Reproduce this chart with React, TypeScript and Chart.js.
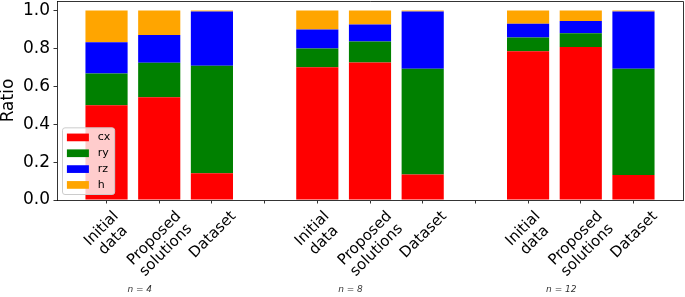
import React, { useEffect, useRef } from "react";
import { Chart, registerables } from "chart.js";

Chart.register(...registerables);

// ---- data ----
const categories: string[][] = [["Initial", "data"], ["Proposed", "solutions"], ["Dataset"]];
const groups: string[] = ["n = 4", "n = 8", "n = 12"];
const seriesNames: string[] = ["cx", "ry", "rz", "h"];
const seriesColors: string[] = ["#ff0000", "#008000", "#0000ff", "#ffa500"];
// order: [n=4: Initial, Proposed, Dataset], [n=8: ...], [n=12: ...]
const cx: number[] = [0.5, 0.542, 0.141, 0.701, 0.725, 0.134, 0.785, 0.807, 0.132];
const ry: number[] = [0.167, 0.182, 0.567, 0.098, 0.111, 0.558, 0.072, 0.073, 0.56];
const rz: number[] = [0.166, 0.146, 0.287, 0.101, 0.09, 0.303, 0.073, 0.064, 0.303];
const h: number[] = [0.167, 0.13, 0.005, 0.1, 0.074, 0.005, 0.07, 0.056, 0.005];
const yTicks: number[] = [0, 0.2, 0.4, 0.6, 0.8, 1.0];

const series = [cx, ry, rz, h];
const slot = categories.length + 1; // one empty slot between groups
const xOf = (i: number) => Math.floor(i / categories.length) * slot + (i % categories.length);
const nSlots = groups.length * slot - 1;
const xTickValues: number[] = Array.from({ length: nSlots }, (_, i) => i);
const labelFor = (v: number): string[] | null => {
  const c = v % slot;
  return c < categories.length ? categories[c] : null;
};

const FONT = '"DejaVu Sans", sans-serif';

const decorPlugin = {
  id: "decor",
  afterDraw(chart: any) {
    const { ctx, chartArea, scales } = chart;
    const xs = scales.x;
    ctx.save();
    // top & right spines
    ctx.strokeStyle = "#000";
    ctx.lineWidth = 0.8;
    ctx.beginPath();
    ctx.moveTo(chartArea.left, chartArea.top + 0.5);
    ctx.lineTo(chartArea.right + 0.5, chartArea.top + 0.5);
    ctx.lineTo(chartArea.right + 0.5, chartArea.bottom);
    ctx.stroke();

    // x tick labels, matplotlib-style rotated 45deg, bbox centred on tick
    const fs = 15;
    ctx.font = `${fs}px ${FONT}`;
    ctx.fillStyle = "#000";
    ctx.textAlign = "center";
    ctx.textBaseline = "alphabetic";
    const step = 1.1 * fs;
    for (const v of xTickValues) {
      const lines = labelFor(v);
      if (!lines) continue;
      const px = xs.getPixelForValue(v);
      const w = Math.max(...lines.map((l) => ctx.measureText(l).width));
      const hh = (lines.length - 1) * step + 1.164 * fs;
      const W = (w + hh) / Math.SQRT2;
      const cyp = chartArea.bottom + 7 + W / 2;
      ctx.save();
      ctx.translate(px, cyp);
      ctx.rotate(-Math.PI / 4);
      lines.forEach((l, i) => {
        ctx.fillText(l, 0, -hh / 2 + 0.928 * fs + i * step);
      });
      ctx.restore();
    }

    // group annotations
    ctx.font = `italic 9px ${FONT}`;
    ctx.fillStyle = "#333";
    ctx.textAlign = "center";
    ctx.textBaseline = "middle";
    groups.forEach((g, gi) => {
      const mid = gi * slot + (categories.length - 1) / 2;
      const px = xs.getPixelForValue(mid - 0.37);
      ctx.fillText(g, px, chartArea.bottom + 90);
    });

    // legend (lower left, inside axes)
    const lf = 11;
    ctx.font = `${lf}px ${FONT}`;
    const pad = 0.4 * lf;
    const handleL = 2 * lf;
    const handleH = 0.7 * lf;
    const textPad = 0.8 * lf;
    const rowH = 0.94 * lf;
    const rowGap = 0.5 * lf;
    const tw = Math.max(...seriesNames.map((n) => ctx.measureText(n).width));
    const bw = 2 * pad + handleL + textPad + tw;
    const bh = 2 * pad + seriesNames.length * rowH + (seriesNames.length - 1) * rowGap;
    const x0 = chartArea.left + 0.5 * lf;
    const y0 = chartArea.bottom - 0.5 * lf - bh;
    const r = 2.5;
    ctx.beginPath();
    ctx.moveTo(x0 + r, y0);
    ctx.lineTo(x0 + bw - r, y0);
    ctx.arcTo(x0 + bw, y0, x0 + bw, y0 + r, r);
    ctx.lineTo(x0 + bw, y0 + bh - r);
    ctx.arcTo(x0 + bw, y0 + bh, x0 + bw - r, y0 + bh, r);
    ctx.lineTo(x0 + r, y0 + bh);
    ctx.arcTo(x0, y0 + bh, x0, y0 + bh - r, r);
    ctx.lineTo(x0, y0 + r);
    ctx.arcTo(x0, y0, x0 + r, y0, r);
    ctx.closePath();
    ctx.fillStyle = "rgba(255,255,255,0.8)";
    ctx.fill();
    ctx.strokeStyle = "#cccccc";
    ctx.lineWidth = 1;
    ctx.stroke();
    ctx.textAlign = "left";
    ctx.textBaseline = "middle";
    chart.data.datasets.forEach((ds: any, i: number) => {
      const cy = y0 + pad + rowH / 2 + i * (rowH + rowGap);
      ctx.fillStyle = ds.backgroundColor;
      ctx.fillRect(x0 + pad, cy - handleH / 2, handleL, handleH);
      ctx.fillStyle = "#000";
      ctx.fillText(ds.label, x0 + pad + handleL + textPad, cy);
    });
    ctx.restore();
  },
};

export default function App() {
  const ref = useRef<HTMLCanvasElement | null>(null);
  useEffect(() => {
    if (!ref.current) return;
    const datasets = series.map((vals, s) => ({
      label: seriesNames[s],
      data: vals.map((v, i) => ({ x: xOf(i), y: v })),
      backgroundColor: seriesColors[s],
      borderWidth: 0,
      barPercentage: 0.8,
      categoryPercentage: 1.0,
    }));
    const chart = new Chart(ref.current, {
      type: "bar",
      data: { datasets },
      options: {
        animation: false,
        responsive: false,
        maintainAspectRatio: false,
        devicePixelRatio: 1,
        layout: { padding: { top: 1, right: 2, left: 0, bottom: 0 } },
        plugins: { legend: { display: false }, tooltip: { enabled: false } },
        scales: {
          x: {
            type: "linear",
            stacked: true,
            offset: false,
            min: -0.94,
            max: nSlots - 1 + 0.94,
            afterBuildTicks: (s: any) => {
              s.ticks = xTickValues.map((v) => ({ value: v }));
            },
            afterFit: (s: any) => {
              s.height = 97;
              s.paddingLeft = 0;
              s.paddingRight = 0;
            },
            ticks: { display: false },
            grid: {
              display: true,
              offset: false,
              drawOnChartArea: false,
              drawTicks: true,
              tickLength: 3.5,
              tickColor: "#000",
              tickWidth: 0.8,
            },
            border: { display: true, color: "#000", width: 0.8 },
          },
          y: {
            stacked: true,
            min: 0,
            max: 1.05,
            afterBuildTicks: (s: any) => {
              s.ticks = yTicks.map((v) => ({ value: v }));
            },
            afterFit: (s: any) => {
              s.width = 57;
              s.paddingTop = 0;
              s.paddingBottom = 0;
            },
            ticks: {
              font: { family: FONT, size: 17 },
              color: "#000",
              padding: 3.5,
              callback: (v: any) => Number(v).toFixed(1),
            },
            grid: {
              display: true,
              drawOnChartArea: false,
              drawTicks: true,
              tickLength: 3.5,
              tickColor: "#000",
              tickWidth: 0.8,
            },
            border: { display: true, color: "#000", width: 0.8 },
            title: {
              display: true,
              text: "Ratio",
              font: { family: FONT, size: 17, lineHeight: 1 },
              color: "#000",
              padding: 0,
            },
          },
        },
      } as any,
      plugins: [decorPlugin],
    });
    return () => chart.destroy();
  }, []);
  return (
    <div style={{ position: "fixed", left: 0, top: 0, width: 685, height: 297, background: "#fff" }}>
      <canvas ref={ref} width={685} height={297} style={{ display: "block" }} />
    </div>
  );
}
